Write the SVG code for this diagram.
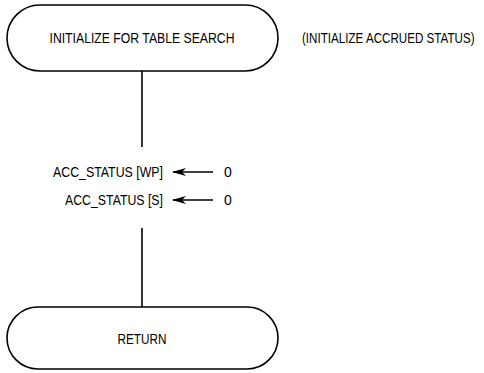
<svg xmlns="http://www.w3.org/2000/svg" width="484" height="373" viewBox="0 0 484 373">
<style>
.term{fill:#fff;stroke:#000;stroke-width:1.6}
.t{font-family:"Liberation Sans Narrow","Liberation Sans",Arial,sans-serif;font-size:14px;fill:#000}
.ln{stroke:#000;stroke-width:1.6;fill:none}
</style>
<defs>
<marker id="ah" viewBox="0 0 14 8" refX="13" refY="4" markerWidth="14" markerHeight="8" orient="auto" markerUnits="userSpaceOnUse">
<path d="M14,4 L0,0 L4,4 L0,8 Z" fill="#000"/>
</marker>
</defs>
<g id="connectors">
<line class="ln" x1="213" y1="172" x2="173" y2="172" marker-end="url(#ah)"/>
<line class="ln" x1="213" y1="200" x2="173" y2="200" marker-end="url(#ah)"/>
<line class="ln" x1="142" y1="71" x2="142" y2="147"/>
<line class="ln" x1="142" y1="228" x2="142" y2="307"/>
</g>
<g id="init">
<rect class="term" x="7" y="5" width="271" height="66" rx="33" ry="33"/>
<text class="t" x="142" y="43" text-anchor="middle" textLength="185" lengthAdjust="spacingAndGlyphs">INITIALIZE FOR TABLE SEARCH</text>
</g>
<g id="comment" transform="translate(302,43) scale(0.83,1)">
<text class="t" x="0" y="0">(INITIALIZE ACCRUED STATUS)</text>
</g>
<g id="assign">
<text class="t" x="163" y="177" text-anchor="end" textLength="110" lengthAdjust="spacingAndGlyphs">ACC_STATUS [WP]</text>
<text class="t" x="224" y="177">0</text>
<text class="t" x="163" y="205" text-anchor="end" textLength="98" lengthAdjust="spacingAndGlyphs">ACC_STATUS [S]</text>
<text class="t" x="224" y="205">0</text>
</g>
<g id="return">
<rect class="term" x="7" y="307" width="271" height="62" rx="31" ry="31"/>
<text class="t" x="142" y="344" text-anchor="middle" textLength="49" lengthAdjust="spacingAndGlyphs">RETURN</text>
</g>
</svg>
